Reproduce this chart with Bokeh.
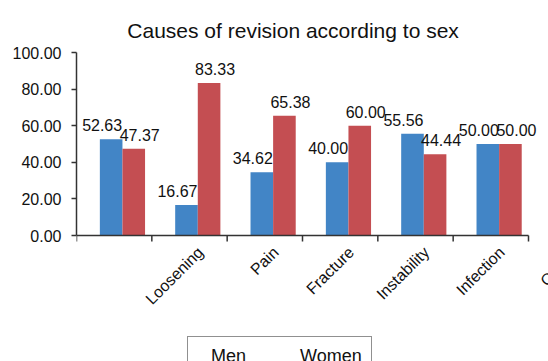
import math
from bokeh.plotting import figure
from bokeh.layouts import column
from bokeh.models import (ColumnDataSource, FixedTicker, PrintfTickFormatter,
                          Label, LabelSet, Legend, LegendItem, Range1d)
from bokeh.core.properties import value
from bokeh.embed import file_html
from bokeh.resources import INLINE

# Causes of revision, percentage by sex
causes = ["Loosening", "Pain", "Fracture", "Instability", "Infection", "Others"]
men = [52.63, 16.67, 34.62, 40.00, 55.56, 50.00]
women = [47.37, 83.33, 65.38, 60.00, 44.44, 50.00]
y_ticks = [0, 20, 40, 60, 80, 100]
title = "Causes of revision according to sex"

BLUE = "#4285C6"
RED = "#C44E52"
FONT = "Liberation Sans"
INK = "#111111"
AXIS = "#333333"

# geometry (pixels)
W, H = 548, 361
left = 76            # y axis position
slot_px = 452 / 6    # width of one category slot
plot_px = 183        # height of the 0..100 value axis
top_px = 52          # space above the value axis
chart_h = 243        # upper panel: title, bars and tick marks
legend_h = H - chart_h

n = len(causes)
px = 100 / plot_px                   # one pixel in value units
x_lo, x_hi = -left / slot_px, (W - left) / slot_px

# each cluster sits a little right of its category slot centre
shift = 0.61
bar_w = 0.3
centers = [i + shift for i in range(n)]
slots = list(range(n + 1))

men_src = ColumnDataSource(dict(
    x=[c - bar_w / 2 for c in centers], top=men,
    txt=[f"{v:.2f}" for v in men]))
women_src = ColumnDataSource(dict(
    x=[c + bar_w / 2 for c in centers], top=women,
    txt=[f"{v:.2f}" for v in women]))
cat_src = ColumnDataSource(dict(x=centers, y=[0] * n, name=causes))


def clean(fig):
    fig.outline_line_color = None
    for g in fig.grid:
        g.visible = False
    fig.background_fill_color = "white"
    fig.border_fill_color = "white"


# ---- upper panel: title, value axis, bars, value labels ----
p = figure(frame_width=W - left, frame_height=chart_h, output_backend="svg",
           toolbar_location=None, x_axis_location=None,
           x_range=Range1d(0, x_hi), y_range=Range1d(-(chart_h - top_px - plot_px) * px,
                                                      100 + top_px * px),
           min_border_left=left, min_border_right=0,
           min_border_top=0, min_border_bottom=0)
clean(p)

r_men = p.vbar(x="x", top="top", width=bar_w, bottom=0, source=men_src,
               fill_color=BLUE, line_color=None)
r_women = p.vbar(x="x", top="top", width=bar_w, bottom=0, source=women_src,
                 fill_color=RED, line_color=None)

p.yaxis.bounds = (0, 100)
p.yaxis.ticker = FixedTicker(ticks=y_ticks)
p.yaxis.formatter = PrintfTickFormatter(format="%.2f")
p.yaxis.major_label_text_font = FONT
p.yaxis.major_label_text_font_size = "16px"
p.yaxis.major_label_text_color = INK
p.yaxis.major_label_standoff = 10
p.yaxis.major_tick_out = 5
p.yaxis.major_tick_in = 0
p.yaxis.minor_tick_line_color = None
p.yaxis.axis_line_color = AXIS
p.yaxis.axis_line_width = 1.5
p.yaxis.major_tick_line_color = AXIS
p.yaxis.major_tick_line_width = 1.5

# category baseline and tick marks on the slot boundaries
p.segment(x0=[0], y0=[0], x1=[n], y1=[0], line_color=AXIS, line_width=1.5)
p.segment(x0=slots, y0=[0] * len(slots), x1=slots, y1=[-6 * px] * len(slots),
          line_color=AXIS, line_width=1.5)

# value labels above the bars
for src, dx in ((men_src, -9), (women_src, 6)):
    p.add_layout(LabelSet(x="x", y="top", text="txt", source=src,
                          x_offset=dx, y_offset=8,
                          text_align="center", text_baseline="alphabetic",
                          text_font=value(FONT), text_font_size=value("16px"),
                          text_color=INK))

p.add_layout(Label(x=2.875, y=100, y_offset=22, text=title,
                   text_align="center", text_baseline="alphabetic",
                   text_font=FONT, text_font_size="21px", text_color=INK))

# ---- lower panel: category names and legend ----
q = figure(frame_width=W, frame_height=legend_h, output_backend="svg",
           toolbar_location=None, x_axis_location=None, y_axis_location=None,
           x_range=Range1d(x_lo, x_hi), y_range=Range1d(-legend_h, 0),
           min_border_left=0, min_border_right=0,
           min_border_top=0, min_border_bottom=0)
clean(q)

q.add_layout(LabelSet(x="x", y="y", text="name", source=cat_src,
                      x_offset=2, y_offset=-6, angle=math.pi / 4,
                      text_align="right", text_baseline="middle",
                      text_font=value(FONT), text_font_size=value("16px"),
                      text_color=INK))

# legend swatches share the bar colours
k_men = q.vbar(x=[], top=[], width=bar_w, fill_color=BLUE, line_color=None)
k_women = q.vbar(x=[], top=[], width=bar_w, fill_color=RED, line_color=None)

legend = Legend(items=[LegendItem(label="Men", renderers=[k_men]),
                       LegendItem(label="Women", renderers=[k_women])],
                orientation="horizontal", location=(187, -16),
                label_text_font=FONT, label_text_font_size="18px",
                label_text_color=INK,
                glyph_width=12, glyph_height=12, label_standoff=2,
                spacing=40, padding=9, margin=0,
                border_line_color="#222222", border_line_width=1,
                background_fill_color="white", background_fill_alpha=1)
q.add_layout(legend)

layout = column(p, q, spacing=0)
open("out.html", "w").write(file_html(layout, INLINE))
